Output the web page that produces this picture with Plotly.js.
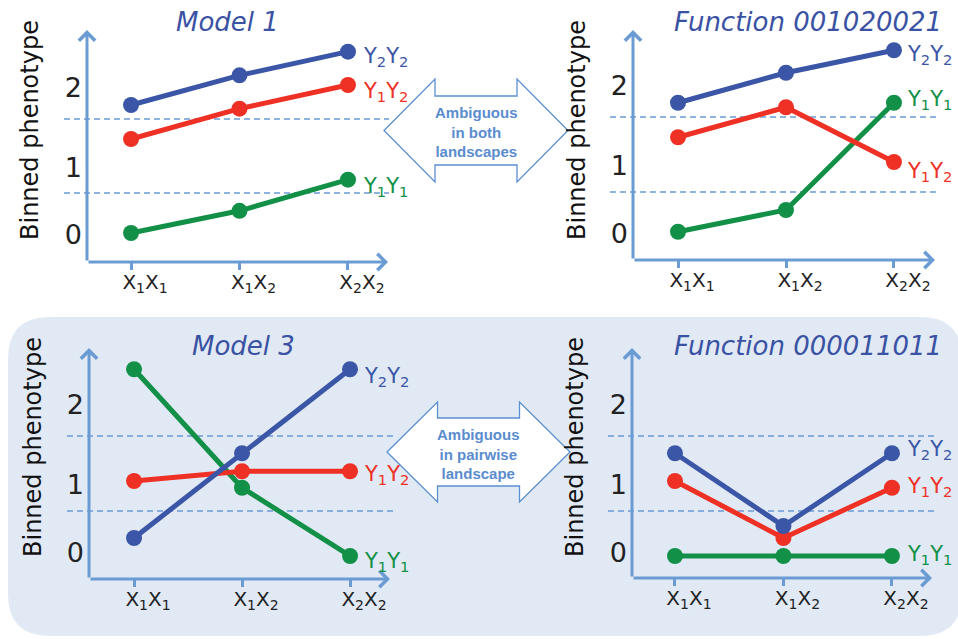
<!DOCTYPE html>
<html>
<head>
<meta charset="utf-8">
<script src="https://cdn.plot.ly/plotly-3.0.1.min.js"></script>
<style>html,body{margin:0;padding:0;background:#fff;}#chart{width:958px;height:639px;}</style>
</head>
<body>
<div id="chart"></div>
<script>
// ---------- data ----------
const categories = ['X<sub>1</sub>X<sub>1</sub>', 'X<sub>1</sub>X<sub>2</sub>', 'X<sub>2</sub>X<sub>2</sub>'];
const seriesNames = ['Y<sub>1</sub>Y<sub>1</sub>', 'Y<sub>1</sub>Y<sub>2</sub>', 'Y<sub>2</sub>Y<sub>2</sub>'];
const panelTitles = ['Model 1', 'Function 001020021', 'Model 3', 'Function 000011011'];
const yAxisTitle = 'Binned phenotype';
const yTickVals = [-0.06, 0.85, 1.92];
const yTickText = ['0', '1', '2'];
const thresholds = [0.5, 1.5];

const model1_Y1Y1 = [-0.04, 0.26, 0.68];
const model1_Y1Y2 = [1.23, 1.64, 1.96];
const model1_Y2Y2 = [1.69, 2.09, 2.41];

const func1_Y1Y1 = [-0.03, 0.26, 1.69];
const func1_Y1Y2 = [1.23, 1.63, 0.90];
const func1_Y2Y2 = [1.69, 2.09, 2.39];

const model3_Y1Y1 = [2.39, 0.81, -0.10];
const model3_Y1Y2 = [0.90, 1.03, 1.03];
const model3_Y2Y2 = [0.14, 1.27, 2.39];

const func2_Y1Y1 = [-0.10, -0.10, -0.10];
const func2_Y1Y2 = [0.90, 0.14, 0.81];
const func2_Y2Y2 = [1.27, 0.30, 1.27];

const arrowTexts = ['Ambiguous<br>in both<br>landscapes', 'Ambiguous<br>in pairwise<br>landscape'];

// ---------- styling / layout geometry ----------
const W = 958, H = 639;
const px = x => x / W;
const py = y => 1 - y / H;
const seriesColors = ['#139048', '#ee3124', '#3b56a6'];
const axisColor = '#6a9bd3';
const titleColor = '#3a52a3';
const FONT = 'DejaVu Sans, Verdana, sans-serif';

const panels = [
  {data: [model1_Y1Y1, model1_Y1Y2, model1_Y2Y2], x0: 87, x1: 388, y0: 30, y1: 262, xr: [-0.406, 2.369], yr: [-0.432, 2.703], dash: [64, 389], title: [227, 22], ytitle: [30, 130], lblShift: [-7, -7, -5], lblX: 13},
  {data: [func1_Y1Y1, func1_Y1Y2, func1_Y2Y2], x0: 633, x1: 935, y0: 30, y1: 260, xr: [-0.417, 2.38], yr: [-0.407, 2.66], dash: [610, 936], title: [808, 22], ytitle: [577, 130], lblShift: [3, -10, -5], lblX: 11},
  {data: [model3_Y1Y1, model3_Y1Y2, model3_Y2Y2], x0: 89, x1: 390, y0: 348, y1: 579, xr: [-0.417, 2.37], yr: [-0.407, 2.673], dash: [67, 393], title: [243, 346], ytitle: [33, 447], lblShift: [-6, -4, -8], lblX: 12},
  {data: [func2_Y1Y1, func2_Y1Y2, func2_Y2Y2], x0: 632, x1: 932, y0: 348, y1: 578, xr: [-0.396, 2.369], yr: [-0.393, 2.673], dash: [608, 934], title: [808, 346], ytitle: [575, 447], lblShift: [1, 1, 3], lblX: 13}
];

const traces = [];
const annotations = [];
const shapes = [];
const layout = {
  width: W, height: H,
  margin: {l: 0, r: 0, t: 0, b: 0},
  paper_bgcolor: '#ffffff',
  plot_bgcolor: 'rgba(0,0,0,0)',
  showlegend: false,
  font: {family: FONT, color: '#222'}
};

// background rounded panel for the bottom row
(function () {
  const l = 8, t = 317, r = 962, b = 636, rad = 42;
  const P = (x, y) => px(x).toFixed(5) + ',' + py(y).toFixed(5);
  shapes.push({
    type: 'path', xref: 'paper', yref: 'paper', layer: 'below',
    path: 'M' + P(l + rad, t) + ' L' + P(r - rad, t) + ' Q' + P(r, t) + ' ' + P(r, t + rad) +
          ' L' + P(r, b - rad) + ' Q' + P(r, b) + ' ' + P(r - rad, b) +
          ' L' + P(l + rad, b) + ' Q' + P(l, b) + ' ' + P(l, b - rad) +
          ' L' + P(l, t + rad) + ' Q' + P(l, t) + ' ' + P(l + rad, t) + ' Z',
    fillcolor: '#e1e9f5', line: {width: 0}
  });
})();

panels.forEach((p, i) => {
  const n = i + 1;
  const xa = 'xaxis' + (n === 1 ? '' : n);
  const ya = 'yaxis' + (n === 1 ? '' : n);
  const xr = 'x' + (n === 1 ? '' : n);
  const yr = 'y' + (n === 1 ? '' : n);
  layout[xa] = {
    domain: [px(p.x0), px(p.x1)], anchor: yr, type: 'category',
    range: p.xr, showgrid: false, zeroline: false, showline: false,
    ticks: 'outside', ticklen: 7, tickwidth: 3, tickcolor: axisColor,
    tickfont: {family: FONT, size: 20, color: '#222'},
    ticklabelshift: 14, ticklabelstandoff: -5, fixedrange: true
  };
  layout[ya] = {
    domain: [py(p.y1), py(p.y0)], anchor: xr,
    range: p.yr, showgrid: false, zeroline: false, showline: false,
    ticks: '', tickmode: 'array', tickvals: yTickVals, ticktext: yTickText,
    tickfont: {family: FONT, size: 27, color: '#222'},
    ticklabelstandoff: 4, fixedrange: true
  };
  // threshold dashed lines
  thresholds.forEach(th => {
    shapes.push({type: 'line', xref: 'paper', yref: yr, x0: px(p.dash[0]), x1: px(p.dash[1]), y0: th, y1: th,
      line: {color: axisColor, width: 1.5, dash: '6px,4px'}, layer: 'below'});
  });
  // axis arrows
  annotations.push({xref: 'paper', yref: 'paper', x: px(p.x1), y: py(p.y1), ax: -(p.x1 - p.x0), ay: 0,
    axref: 'pixel', ayref: 'pixel', text: '', showarrow: true, arrowhead: 4, arrowsize: 1.05, arrowwidth: 3, arrowcolor: axisColor, standoff: 0});
  annotations.push({xref: 'paper', yref: 'paper', x: px(p.x0), y: py(p.y0), ax: 0, ay: (p.y1 - p.y0),
    axref: 'pixel', ayref: 'pixel', text: '', showarrow: true, arrowhead: 4, arrowsize: 1.05, arrowwidth: 3, arrowcolor: axisColor, standoff: 0});
  // series
  p.data.forEach((vals, k) => {
    traces.push({
      type: 'scatter', mode: 'lines+markers', x: categories, y: vals, xaxis: xr, yaxis: yr,
      line: {color: seriesColors[k], width: 5}, marker: {color: seriesColors[k], size: 16},
      name: seriesNames[k], hoverinfo: 'skip'
    });
    annotations.push({xref: xr, yref: yr, x: 2, y: vals[2], text: seriesNames[k], showarrow: false,
      xanchor: 'left', yanchor: 'middle', xshift: p.lblX, yshift: p.lblShift[k],
      font: {family: FONT, size: 21, color: seriesColors[k]}});
  });
  // title
  annotations.push({xref: 'paper', yref: 'paper', x: px(p.title[0]), y: py(p.title[1]), text: panelTitles[i],
    showarrow: false, xanchor: 'center', yanchor: 'middle',
    font: {family: FONT, size: 26, color: titleColor, style: 'italic'}});
  // y axis title
  annotations.push({xref: 'paper', yref: 'paper', x: px(p.ytitle[0]), y: py(p.ytitle[1]), text: yAxisTitle,
    showarrow: false, textangle: -90, xanchor: 'center', yanchor: 'middle',
    font: {family: FONT, size: 24, color: '#111'}});
});

// block double arrows
function blockArrow(cx, cy, halfW, headW, halfH, shaftH) {
  const P = (x, y) => px(x).toFixed(5) + ',' + py(y).toFixed(5);
  const l = cx - halfW, r = cx + halfW, il = l + headW, ir = r - headW;
  return 'M' + P(l, cy) + ' L' + P(il, cy - halfH) + ' L' + P(il, cy - shaftH) + ' L' + P(ir, cy - shaftH) +
    ' L' + P(ir, cy - halfH) + ' L' + P(r, cy) + ' L' + P(ir, cy + halfH) + ' L' + P(ir, cy + shaftH) +
    ' L' + P(il, cy + shaftH) + ' L' + P(il, cy + halfH) + ' Z';
}
shapes.push({type: 'path', xref: 'paper', yref: 'paper', path: blockArrow(476, 130.5, 92, 51, 51.5, 34.5),
  fillcolor: '#ffffff', line: {color: '#5b8fd0', width: 1.3}});
shapes.push({type: 'path', xref: 'paper', yref: 'paper', path: blockArrow(478.5, 452, 91.5, 50.5, 50, 34),
  fillcolor: '#ffffff', line: {color: '#5b8fd0', width: 1.3}});
annotations.push({xref: 'paper', yref: 'paper', x: px(476), y: py(132), text: '<b>' + arrowTexts[0] + '</b>',
  showarrow: false, xanchor: 'center', yanchor: 'middle', align: 'center',
  font: {family: 'Liberation Sans, Arial, sans-serif', size: 15, color: '#5a8cce'}});
annotations.push({xref: 'paper', yref: 'paper', x: px(478), y: py(454), text: '<b>' + arrowTexts[1] + '</b>',
  showarrow: false, xanchor: 'center', yanchor: 'middle', align: 'center',
  font: {family: 'Liberation Sans, Arial, sans-serif', size: 15, color: '#5a8cce'}});

layout.annotations = annotations;
layout.shapes = shapes;

Plotly.newPlot('chart', traces, layout, {displayModeBar: false, staticPlot: true});
</script>
</body>
</html>
